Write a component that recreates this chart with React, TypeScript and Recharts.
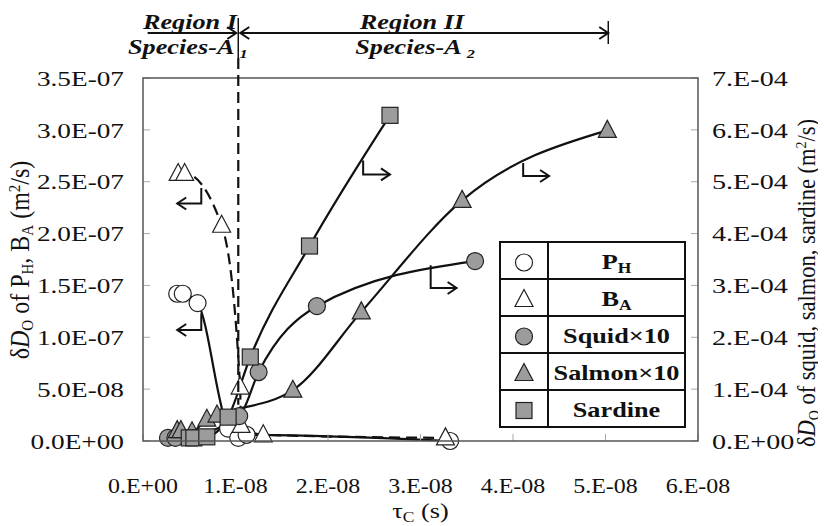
import { LineChart, Line, XAxis, YAxis } from "recharts";

// tau_C in units of 1e-8 s
// P_H and B_A in units of 1e-7 m2/s (left axis)
// squid, salmon, sardine in units of 1e-4 m2/s (right axis)
const phTau = [0.37, 0.43, 0.59, 0.92, 1.03, 1.12, 3.32];
const phD = [1.42, 1.42, 1.33, 0.12, 0.03, 0.06, 0.0];

const baTau = [0.38, 0.45, 0.85, 1.05, 1.06, 1.3, 3.27];
const baD = [2.58, 2.58, 2.08, 0.52, 0.15, 0.06, 0.03];

const squidTau = [0.27, 0.35, 1.04, 1.25, 1.88, 3.59];
const squidD = [0.06, 0.06, 0.48, 1.33, 2.6, 3.47];

const salmonTau = [0.37, 0.41, 0.53, 0.69, 0.8, 1.62, 2.36, 3.45, 5.02];
const salmonD = [0.2, 0.2, 0.18, 0.42, 0.5, 0.98, 2.49, 4.64, 5.99];

const sardineTau = [0.5, 0.55, 0.69, 0.92, 1.16, 1.8, 2.67];
const sardineD = [0.06, 0.06, 0.08, 0.46, 1.62, 3.76, 6.28];

const xTicks = [0, 1, 2, 3, 4, 5, 6];
const xTickLabels = ["0.E+00", "1.E-08", "2.E-08", "3.E-08", "4.E-08", "5.E-08", "6.E-08"];
const leftTicks = [0, 0.5, 1, 1.5, 2, 2.5, 3, 3.5];
const leftTickLabels = ["0.0E+00", "5.0E-08", "1.0E-07", "1.5E-07", "2.0E-07", "2.5E-07", "3.0E-07", "3.5E-07"];
const rightTicks = [0, 1, 2, 3, 4, 5, 6, 7];
const rightTickLabels = ["0.E+00", "1.E-04", "2.E-04", "3.E-04", "4.E-04", "5.E-04", "6.E-04", "7.E-04"];

// region borders on the tau axis (1e-8 s)
const regionStart = 0.05;
const regionBorder = 1.03;
const regionEnd = 5.03;

// little "which axis" arrows, in data units
const leftArrows = [
  { x: 0.63, yTop: 2.44, yBot: 2.29, xTip: 0.37 },
  { x: 0.63, yTop: 1.23, yBot: 1.07, xTip: 0.37 },
];
const rightArrows = [
  { x: 2.38, yTop: 5.41, yBot: 5.14, xTip: 2.67 },
  { x: 4.11, yTop: 5.36, yBot: 5.11, xTip: 4.39 },
  { x: 3.11, yTop: 3.39, yBot: 2.95, xTip: 3.39 },
];

const W = 826;
const H = 526;
const PLOT = { left: 143, top: 78, right: 698, bottom: 441 };
const X_MAX = 6;
const YL_MAX = 3.5;
const YR_MAX = 7;
const SX = 1.25; // the original figure is stretched sideways
const FONT = "'Liberation Serif', 'Times New Roman', serif";
const GRAY = "#9c9c9c";

const px = (x: number) => PLOT.left + (x / X_MAX) * (PLOT.right - PLOT.left);
const pyL = (y: number) => PLOT.bottom - (y / YL_MAX) * (PLOT.bottom - PLOT.top);
const pyR = (y: number) => PLOT.bottom - (y / YR_MAX) * (PLOT.bottom - PLOT.top);

const toPoints = (xs: number[], ys: number[]) => xs.map((x, i) => ({ x, y: ys[i] }));

function Marker({ kind, cx, cy, fill }: any) {
  const st = { fill, stroke: "#222", strokeWidth: 1.2 };
  if (kind === "circle") return <circle cx={cx} cy={cy} r={8.5} {...st} />;
  if (kind === "square") return <rect x={cx - 8} y={cy - 8} width={16} height={16} {...st} />;
  return <polygon points={`${cx},${cy - 10} ${cx - 9},${cy + 7} ${cx + 9},${cy + 7}`} {...st} />;
}

const dotFor = (kind: string, fill: string) => (p: any) => (
  <Marker key={`${kind}-${p.index}`} kind={kind} cx={p.cx} cy={p.cy} fill={fill} />
);

function makeTick(labels: string[], values: number[], anchor: string, dy: string, size: number, sx: number) {
  return (p: any) => {
    const i = values.indexOf(p.payload.value);
    return (
      <text
        key={`t-${p.payload.value}`}
        transform={`translate(${p.x},${p.y}) scale(${sx},1)`}
        textAnchor={anchor}
        dy={dy}
        fontFamily={FONT}
        fontSize={size}
        fill="#111"
      >
        {labels[i]}
      </text>
    );
  };
}

function Chevron({ x, y, dir }: { x: number; y: number; dir: number }) {
  return (
    <polyline
      points={`${x - dir * 9},${y - 6} ${x},${y} ${x - dir * 9},${y + 6}`}
      fill="none"
      stroke="#111"
      strokeWidth={2}
    />
  );
}

function Stretched({ x, y, anchor, size, weight, italic, children }: any) {
  return (
    <text
      transform={`translate(${x},${y}) scale(${SX},1)`}
      textAnchor={anchor}
      fontFamily={FONT}
      fontSize={size}
      fontWeight={weight}
      fontStyle={italic ? "italic" : "normal"}
      fill="#111"
    >
      {children}
    </text>
  );
}

const legendRows = [
  { main: "P", sub: "H", kind: "circle", fill: "#fff" },
  { main: "B", sub: "A", kind: "triangle", fill: "#fff" },
  { main: "Squid×10", sub: "", kind: "circle", fill: GRAY },
  { main: "Salmon×10", sub: "", kind: "triangle", fill: GRAY },
  { main: "Sardine", sub: "", kind: "square", fill: GRAY },
];

function Overlay() {
  const lx = 500;
  const ly = 242;
  const rowH = 37;
  const colX = 548;
  const lw = 185;
  const bx = px(regionBorder);
  return (
    <svg width={W} height={H} style={{ position: "absolute", left: 0, top: 0, pointerEvents: "none" }}>
      {/* plot frame */}
      <rect
        x={PLOT.left}
        y={PLOT.top}
        width={PLOT.right - PLOT.left}
        height={PLOT.bottom - PLOT.top}
        fill="none"
        stroke="#555"
        strokeWidth={1.5}
      />

      {/* region header */}
      <line x1={bx} y1={18} x2={bx} y2={58} stroke="#111" strokeWidth={1.5} />
      <line x1={px(regionStart)} y1={33} x2={bx - 2} y2={33} stroke="#111" strokeWidth={2} />
      <Chevron x={bx - 2} y={33} dir={1} />
      <line x1={bx + 2} y1={33} x2={px(regionEnd)} y2={33} stroke="#111" strokeWidth={2} />
      <Chevron x={bx + 2} y={33} dir={-1} />
      <Chevron x={px(regionEnd)} y={33} dir={1} />
      <line x1={px(regionEnd)} y1={21} x2={px(regionEnd)} y2={44} stroke="#111" strokeWidth={1.5} />
      <line x1={bx} y1={58} x2={bx} y2={pyL(0.35)} stroke="#111" strokeWidth={2.2} strokeDasharray="11 6" />

      <Stretched x={(px(regionStart) + bx) / 2 - 3} y={29} anchor="middle" size={21} weight="bold" italic>
        Region I
      </Stretched>
      <Stretched x={128} y={54} anchor="start" size={21} weight="bold" italic>
        Species-A<tspan fontSize={13} dx={4} dy={4}>1</tspan>
      </Stretched>
      <Stretched x={412} y={29} anchor="middle" size={21} weight="bold" italic>
        Region II
      </Stretched>
      <Stretched x={415} y={54} anchor="middle" size={21} weight="bold" italic>
        Species-A<tspan fontSize={13} dx={4} dy={4}>2</tspan>
      </Stretched>

      {/* axis arrows */}
      {leftArrows.map((a, i) => (
        <g key={`la-${i}`}>
          <polyline
            points={`${px(a.x)},${pyL(a.yTop)} ${px(a.x)},${pyL(a.yBot)} ${px(a.xTip)},${pyL(a.yBot)}`}
            fill="none"
            stroke="#111"
            strokeWidth={2}
          />
          <Chevron x={px(a.xTip)} y={pyL(a.yBot)} dir={-1} />
        </g>
      ))}
      {rightArrows.map((a, i) => (
        <g key={`ra-${i}`}>
          <polyline
            points={`${px(a.x)},${pyR(a.yTop)} ${px(a.x)},${pyR(a.yBot)} ${px(a.xTip)},${pyR(a.yBot)}`}
            fill="none"
            stroke="#111"
            strokeWidth={2}
          />
          <Chevron x={px(a.xTip)} y={pyR(a.yBot)} dir={1} />
        </g>
      ))}

      {/* legend table */}
      <rect x={lx} y={ly} width={lw} height={rowH * 5} fill="#fff" stroke="#111" strokeWidth={2} />
      <line x1={colX} y1={ly} x2={colX} y2={ly + rowH * 5} stroke="#111" strokeWidth={2} />
      {legendRows.map((r, i) => {
        const cy = ly + rowH * i + rowH / 2;
        return (
          <g key={r.main}>
            {i > 0 && <line x1={lx} y1={ly + rowH * i} x2={lx + lw} y2={ly + rowH * i} stroke="#111" strokeWidth={2} />}
            <Marker kind={r.kind} cx={(lx + colX) / 2} cy={cy + 2} fill={r.fill} />
            <Stretched x={(colX + lx + lw) / 2} y={cy + 8} anchor="middle" size={21} weight="bold">
              {r.main}
              {r.sub && (
                <tspan fontSize={14} dy={4}>
                  {r.sub}
                </tspan>
              )}
            </Stretched>
          </g>
        );
      })}

      {/* axis titles */}
      <Stretched x={(PLOT.left + PLOT.right) / 2} y={518} anchor="middle" size={21}>
        τ<tspan fontSize={14} dy={4}>C</tspan>
        <tspan dy={-4}> (s)</tspan>
      </Stretched>
      <text
        transform={`translate(29,260) rotate(-90) scale(1,1.1)`}
        textAnchor="middle"
        fontFamily={FONT}
        fontSize={24}
        fill="#111"
      >
        δ<tspan fontStyle="italic">D</tspan>
        <tspan fontSize={15} dy={4}>O</tspan>
        <tspan dy={-4}> of P</tspan>
        <tspan fontSize={15} dy={4}>H</tspan>
        <tspan dy={-4}>, B</tspan>
        <tspan fontSize={15} dy={4}>A</tspan>
        <tspan dy={-4}> (m</tspan>
        <tspan fontSize={15} dy={-8}>2</tspan>
        <tspan dy={8}>/s)</tspan>
      </text>
      <text
        transform={`translate(815,283) rotate(-90) scale(1,1.1)`}
        textAnchor="middle"
        fontFamily={FONT}
        fontSize={22.5}
        fill="#111"
      >
        δ<tspan fontStyle="italic">D</tspan>
        <tspan fontSize={14} dy={4}>O</tspan>
        <tspan dy={-4}> of squid, salmon, sardine  (m</tspan>
        <tspan fontSize={14} dy={-8}>2</tspan>
        <tspan dy={8}>/s)</tspan>
      </text>
    </svg>
  );
}

export default function App() {
  const line = { stroke: "#111", strokeWidth: 2.2, isAnimationActive: false, type: "monotone" as const };
  return (
    <div style={{ position: "relative", width: W, height: H, margin: "-8px 0 0 -8px" }}>
      <LineChart width={W} height={H} margin={{ top: 78, right: 8, bottom: 15, left: 23 }}>
        <XAxis
          type="number"
          dataKey="x"
          domain={[0, X_MAX]}
          ticks={xTicks}
          axisLine={false}
          tickSize={-7}
          tickMargin={44}
          tickLine={{ stroke: "#aaa" }}
          height={70}
          interval={0}
          tick={makeTick(xTickLabels, xTicks, "middle", "0.71em", 21, 1.14)}
        />
        <YAxis
          yAxisId="left"
          type="number"
          domain={[0, YL_MAX]}
          ticks={leftTicks}
          width={120}
          axisLine={false}
          tickSize={-7}
          tickMargin={26}
          tickLine={{ stroke: "#aaa" }}
          interval={0}
          tick={makeTick(leftTickLabels, leftTicks, "end", "0.35em", 22, 1.24)}
        />
        <YAxis
          yAxisId="right"
          orientation="right"
          type="number"
          domain={[0, YR_MAX]}
          ticks={rightTicks}
          width={120}
          axisLine={false}
          tickSize={-7}
          tickMargin={21}
          tickLine={{ stroke: "#aaa" }}
          interval={0}
          tick={makeTick(rightTickLabels, rightTicks, "start", "0.35em", 22, 1.28)}
        />
        <Line {...line} yAxisId="left" data={toPoints(phTau, phD)} dataKey="y" dot={dotFor("circle", "#fff")} />
        <Line
          {...line}
          yAxisId="left"
          data={toPoints(baTau, baD)}
          dataKey="y"
          strokeDasharray="11 6"
          dot={dotFor("triangle", "#fff")}
        />
        <Line {...line} yAxisId="right" data={toPoints(squidTau, squidD)} dataKey="y" dot={dotFor("circle", GRAY)} />
        <Line {...line} yAxisId="right" data={toPoints(salmonTau, salmonD)} dataKey="y" dot={dotFor("triangle", GRAY)} />
        <Line {...line} yAxisId="right" data={toPoints(sardineTau, sardineD)} dataKey="y" dot={dotFor("square", GRAY)} />
      </LineChart>
      <Overlay />
    </div>
  );
}
